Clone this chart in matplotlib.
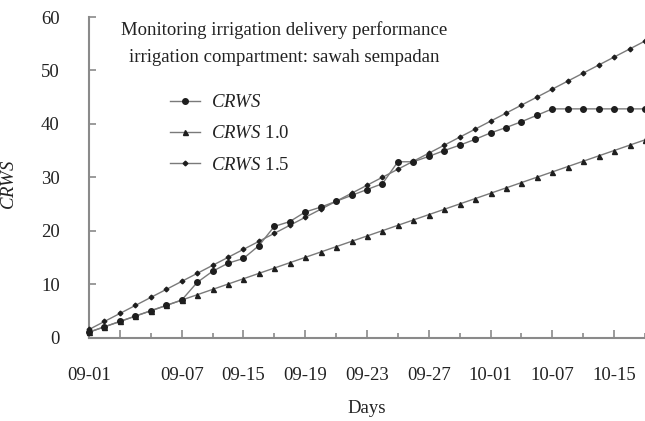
import numpy as np
import matplotlib
matplotlib.use("Agg")
from matplotlib import pyplot as plt

# values, one per day
crws = [1.0, 2.0, 3.0, 4.0, 5.0, 6.0, 7.0, 10.3, 12.4, 13.9, 14.8, 17.2, 20.8,
        21.7, 23.5, 24.4, 25.5, 26.6, 27.7, 28.8, 32.9, 32.9, 33.9, 35.0, 36.0,
        37.1, 38.3, 39.3, 40.4, 41.6, 42.8, 42.8, 42.8, 42.8, 42.8, 42.8, 42.8]
crws_10 = [1, 2, 3, 4, 5, 6, 7, 8, 9, 10, 11, 12, 13, 14, 15, 16, 17, 18, 19,
           20, 21, 22, 23, 24, 25, 26, 27, 28, 29, 30, 31, 32, 33, 34, 35, 36, 37]
crws_15 = [1.5, 3.0, 4.5, 6.0, 7.5, 9.0, 10.5, 12.0, 13.5, 15.0, 16.5, 18.0,
           19.5, 21.0, 22.5, 24.0, 25.5, 27.0, 28.5, 30.0, 31.5, 33.0, 34.5,
           36.0, 37.5, 39.0, 40.5, 42.0, 43.5, 45.0, 46.5, 48.0, 49.5, 51.0,
           52.5, 54.0, 55.5]

major_pos = [2, 6, 10, 14, 18, 22, 26, 30, 34]
major_labels = ['', '09-07', '09-15', '09-19', '09-23', '09-27', '10-01', '10-07', '10-15']
minor_pos = [0, 4, 8, 12, 16, 20, 24, 28, 32, 36]
minor_labels = ['09-01', '', '', '', '', '', '', '', '', '']

plt.rcParams['font.family'] = 'Liberation Serif'
plt.rcParams['mathtext.fontset'] = 'custom'
plt.rcParams['mathtext.it'] = 'Liberation Serif:italic'
plt.rcParams['mathtext.rm'] = 'Liberation Serif'

TXT = '#222222'
LINE = '#7a7a7a'
MK = '#1e1e1e'
SPINE = '#8a8a8a'
FS = 13.5

fig = plt.figure(figsize=(6.45, 4.21), dpi=100)
ax = fig.add_axes([89 / 645, 1 - 337.5 / 421, 1 - 89 / 645, (337.5 - 17) / 421])

x = np.arange(len(crws))
ax.plot(x, crws, color=LINE, lw=1.0, marker='o', ms=4, mfc=MK, mec=MK,
        label=r'$\it{CRWS}$', clip_on=False, zorder=4)
ax.plot(x, crws_10, color=LINE, lw=1.0, marker='^', ms=3.6, mfc=MK, mec=MK,
        label=r'$\it{CRWS}$ 1.0', clip_on=False, zorder=3)
ax.plot(x, crws_15, color=LINE, lw=1.0, marker='D', ms=2.4, mfc=MK, mec=MK,
        label=r'$\it{CRWS}$ 1.5', clip_on=False, zorder=3)

ax.set_xlim(0, 36)
ax.set_ylim(0, 60)
ax.set_yticks([0, 10, 20, 30, 40, 50, 60])
ax.set_xticks(major_pos, labels=major_labels)
ax.set_xticks(minor_pos, labels=minor_labels, minor=True)

for s in ['top', 'right']:
    ax.spines[s].set_visible(False)
for s in ['left', 'bottom']:
    ax.spines[s].set_color(SPINE)
    ax.spines[s].set_linewidth(1.5)

ax.tick_params(axis='both', which='both', direction='in', colors=SPINE,
               labelcolor=TXT, labelsize=FS, width=1.2)
ax.tick_params(axis='x', which='major', length=6, pad=21)
ax.tick_params(axis='x', which='minor', length=3.5, pad=21)
ax.tick_params(axis='y', which='major', length=5, pad=21)

ax.set_ylabel(r'$\it{CRWS}$', fontsize=FS, color=TXT)
ax.yaxis.set_label_coords(-0.128, 0.476)
ax.set_xlabel('Days', fontsize=FS, color=TXT, labelpad=12)

fig.text(284 / 645, 1 - 30 / 421, 'Monitoring irrigation delivery performance',
         ha='center', va='center', fontsize=FS, color=TXT)
fig.text(284 / 645, 1 - 57 / 421, 'irrigation compartment: sawah sempadan',
         ha='center', va='center', fontsize=FS, color=TXT)

leg = ax.legend(loc='upper left', bbox_to_anchor=(170 / 645, 1 - 94 / 421),
                bbox_transform=fig.transFigure, frameon=False, fontsize=FS,
                borderpad=0, borderaxespad=0, handlelength=1.6,
                handletextpad=0.6, labelspacing=0.75)
for t in leg.get_texts():
    t.set_color(TXT)

fig.savefig('out.png', dpi=100)
